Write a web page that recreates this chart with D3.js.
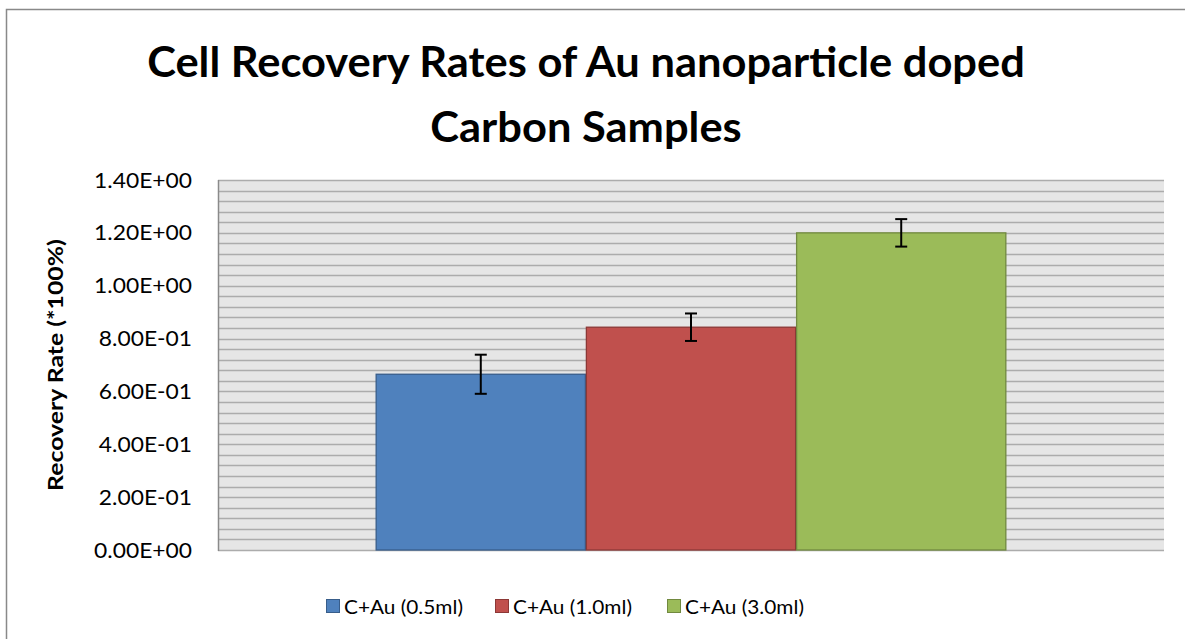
<!DOCTYPE html>
<html><head><meta charset="utf-8">
<script src="https://cdn.jsdelivr.net/npm/d3@7"></script>
<style>body{margin:0;background:#fff;} svg{display:block;}</style>
</head><body>
<svg id="chart" width="1185" height="639"></svg>
<script>
// ---- data ----
const titleLines = ["Cell Recovery Rates of Au nanoparticle doped", "Carbon Samples"];
const yAxisTitle = "Recovery Rate (*100%)";
const seriesNames = ["C+Au (0.5ml)", "C+Au (1.0ml)", "C+Au (3.0ml)"];
const seriesValues = [0.665, 0.843, 1.200];
const seriesErrors = [0.074, 0.052, 0.052];
const seriesColors = ["#4f81bd", "#c0504d", "#9bbb59"];
const seriesStrokes = ["#385d8a", "#8c3836", "#71893f"];
const yTicks = [0, 0.2, 0.4, 0.6, 0.8, 1.0, 1.2, 1.4];
const yTickLabels = ["0.00E+00","2.00E-01","4.00E-01","6.00E-01","8.00E-01","1.00E+00","1.20E+00","1.40E+00"];
const gridStep = 0.04;

const svg = d3.select("#chart");
const FONT = "Lato, 'Open Sans', sans-serif";
const plot = {left: 218, right: 1164, top: 180, bottom: 550};

// helper: horizontal squeeze so text at given size has target width
function squeeze(text, weight, size, target) {
  const t = svg.append("text").attr("font-family", FONT).attr("font-weight", weight)
    .attr("font-size", size).text(text);
  const w = t.node().getComputedTextLength();
  t.remove();
  return target / w;
}

// outer chart border
svg.append("rect").attr("x", 6.5).attr("y", 9.5).attr("width", 1300).attr("height", 800)
  .attr("fill", "#fff").attr("stroke", "#898989").attr("stroke-width", 1.5);

// scales
const y = d3.scaleLinear().domain([0, 1.4]).range([plot.bottom, plot.top]);
const x = d3.scaleBand().domain(seriesNames).range([plot.left, plot.right])
  .paddingInner(0).paddingOuter(0.75);

// plot background
svg.append("rect").attr("x", plot.left).attr("y", plot.top)
  .attr("width", plot.right - plot.left).attr("height", plot.bottom - plot.top)
  .attr("fill", "#e6e6e6");

// gridlines
const gridVals = d3.range(0, 1.4 + 1e-9, gridStep);
svg.append("g").selectAll("line").data(gridVals).join("line")
  .attr("x1", plot.left).attr("x2", plot.right)
  .attr("y1", d => Math.round(y(d)) + 0.5).attr("y2", d => Math.round(y(d)) + 0.5)
  .attr("stroke", "#acacac").attr("stroke-width", 1.4);

// left axis line
svg.append("line").attr("x1", plot.left + 0.5).attr("x2", plot.left + 0.5)
  .attr("y1", plot.top).attr("y2", plot.bottom + 1)
  .attr("stroke", "#8a8a8a").attr("stroke-width", 1.5);

// y axis via d3 axis
const tickFs = 22;
const tickSx = squeeze("1.40E+00", 400, tickFs, 98);
const yAxis = d3.axisLeft(y).tickValues(yTicks)
  .tickFormat((d, i) => yTickLabels[i]).tickSize(0).tickPadding(0);
const gy = svg.append("g").attr("transform", `translate(${plot.left},0)`).call(yAxis);
gy.select(".domain").remove();
gy.selectAll("text").attr("font-family", FONT).attr("font-size", tickFs).attr("fill", "#000")
  .attr("x", 0).attr("transform", `translate(-26,0) scale(${tickSx},1)`);

// bars
svg.append("g").selectAll("rect").data(seriesNames).join("rect")
  .attr("x", d => x(d) + 0.5).attr("width", x.bandwidth() - 1)
  .attr("y", (d, i) => y(seriesValues[i]))
  .attr("height", (d, i) => y(0) - y(seriesValues[i]))
  .attr("fill", (d, i) => seriesColors[i])
  .attr("stroke", (d, i) => seriesStrokes[i]).attr("stroke-width", 1.3);

// error bars
const eg = svg.append("g").attr("stroke", "#000").attr("stroke-width", 2);
seriesNames.forEach((d, i) => {
  const cx = x(d) + x.bandwidth() / 2;
  const hi = y(seriesValues[i] + seriesErrors[i]), lo = y(seriesValues[i] - seriesErrors[i]);
  eg.append("line").attr("x1", cx).attr("x2", cx).attr("y1", hi).attr("y2", lo);
  eg.append("line").attr("x1", cx - 6).attr("x2", cx + 6).attr("y1", hi).attr("y2", hi);
  eg.append("line").attr("x1", cx - 6).attr("x2", cx + 6).attr("y1", lo).attr("y2", lo);
});

// title
const titleFs = 42;
const titleSx = squeeze(titleLines[0], 700, titleFs, 878);
svg.append("g").selectAll("text").data(titleLines).join("text")
  .attr("transform", (d, i) => `translate(586,${77 + i * 65}) scale(${titleSx},1)`)
  .attr("text-anchor", "middle").attr("font-family", FONT).attr("font-weight", 700)
  .attr("font-size", titleFs).attr("fill", "#000").text(d => d);

// y-axis title
const ytFs = 21;
const ytSx = squeeze(yAxisTitle, 700, ytFs, 252);
svg.append("text")
  .attr("transform", `translate(63,${(plot.top + plot.bottom) / 2}) rotate(-90) scale(${ytSx},1)`)
  .attr("text-anchor", "middle").attr("font-family", FONT).attr("font-weight", 700)
  .attr("font-size", ytFs).attr("fill", "#000").text(yAxisTitle);

// legend
const legFs = 20;
const legSx = squeeze(seriesNames[0], 400, legFs, 119);
const legX = [326, 495, 667];
const lg = svg.append("g").selectAll("g").data(seriesNames).join("g")
  .attr("transform", (d, i) => `translate(${legX[i]},599)`);
lg.append("rect").attr("x", 0.5).attr("y", 0.5).attr("width", 13).attr("height", 13)
  .attr("fill", (d, i) => seriesColors[i]).attr("stroke", (d, i) => seriesStrokes[i]);
lg.append("text").attr("transform", `translate(18,7.5) scale(${legSx},1)`).attr("dy", "0.36em")
  .attr("font-family", FONT).attr("font-size", legFs).attr("fill", "#000").text(d => d);
</script>
</body></html>
